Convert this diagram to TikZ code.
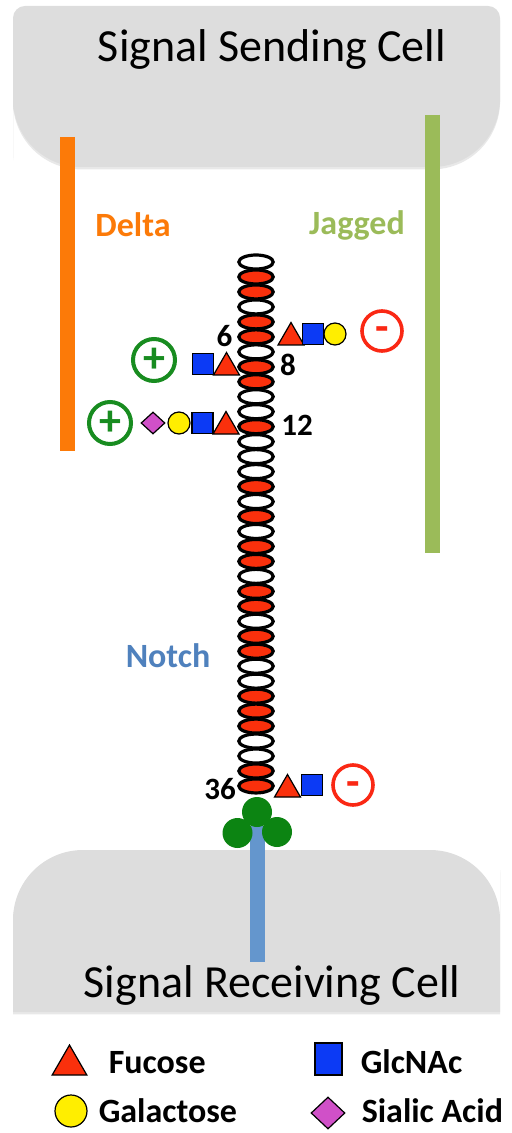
\documentclass[tikz,border=0pt]{standalone}
\usepackage{fontspec}
\setmainfont{Carlito}
\usetikzlibrary{shapes.geometric,shadows}

\definecolor{cellgray}{RGB}{221,221,221}
\definecolor{egfred}{RGB}{250,48,12}
\definecolor{fucred}{RGB}{250,48,12}
\definecolor{glcblue}{RGB}{12,58,245}
\definecolor{galyellow}{RGB}{255,238,0}
\definecolor{siamag}{RGB}{208,80,200}
\definecolor{deltaorange}{RGB}{252,122,8}
\definecolor{jaggedgreen}{RGB}{155,187,89}
\definecolor{notchblue}{RGB}{79,129,189}
\definecolor{stemblue}{RGB}{100,150,205}
\definecolor{knobgreen}{RGB}{12,132,18}
\definecolor{gaingreen}{RGB}{24,140,32}
\definecolor{lossred}{RGB}{250,40,20}

\tikzset{every picture/.style={line width=0.75pt}}
\tikzset{
    cell/.style={fill=cellgray, drop shadow={opacity=0.18, shadow xshift=0pt, shadow yshift=-1.2pt}},
    egf/.style={ellipse, draw=black, line width=1.6pt, fill=white, inner sep=0pt,
        minimum width=17.2pt, minimum height=7pt},
    sugar/.style={draw=black, line width=0.6pt, inner sep=0pt},
    fuc/.style={sugar, regular polygon, regular polygon sides=3, fill=fucred, minimum size=15pt},
    glc/.style={sugar, rectangle, fill=glcblue, minimum size=10.5pt},
    gal/.style={sugar, circle, fill=galyellow, minimum size=11pt},
    sia/.style={sugar, diamond, fill=siamag, minimum width=12pt, minimum height=11pt},
    knob/.style={circle, fill=knobgreen, inner sep=0pt, minimum size=15pt},
    gainsign/.style={circle, draw=gaingreen, text=gaingreen, line width=2pt, inner sep=0pt,
        minimum size=21pt, font=\bfseries\fontsize{22}{22}\selectfont},
    losssign/.style={circle, draw=lossred, text=lossred, line width=1.8pt, inner sep=0pt,
        minimum size=20pt, text height=11pt, text depth=0pt,
        font=\bfseries\fontsize{22}{22}\selectfont},
    site/.style={font=\bfseries\fontsize{15.5}{17}\selectfont},
    ligand/.style={font=\bfseries\fontsize{17}{19}\selectfont},
    title/.style={font=\fontsize{23}{27}\selectfont, anchor=base},
    key/.style={font=\bfseries\fontsize{17}{19}\selectfont, anchor=base west, inner sep=0pt},
}

\begin{document}
\begin{tikzpicture}[x=0.5pt, y=-0.5pt]
    \useasboundingbox (0,0) rectangle (511,1133);

    % the two cells
    \fill[cell] (13,90) [rounded corners=6pt] -- (13,6) -- (500,6) -- (500,90)
        [rounded corners=34pt] -- (500,167) -- (13,167) -- cycle;
    \fill[cell] (13,940) [rounded corners=35pt] -- (13,850) -- (500,850) -- (500,940)
        [sharp corners] -- (500,1012) -- (13,1012) -- cycle;
    \node[title] (send) at (272,62) {Signal Sending Cell};
    \node[title] (recv) at (272,997) {Signal Receiving Cell};

    % ligands
    \draw[line width=7.5pt, deltaorange] (67.5,137) -- (67.5,451);
    \draw[line width=7.5pt, jaggedgreen] (432.5,115) -- (432.5,553);
    \node[ligand, text=deltaorange] (delta) at (133,225) {Delta};
    \node[ligand, text=jaggedgreen] (jagged) at (357,225) {Jagged};
    \node[ligand, text=notchblue] (notch) at (168,656) {Notch};

    % stem and knobs
    \draw[line width=7.5pt, stemblue] (257.5,826) -- (257.5,962);
    \node[knob] (k1) at (257,812) {};
    \node[knob] (k2) at (237.5,833) {};
    \node[knob] (k3) at (277,832) {};

    % EGF repeats
    \foreach \c [count=\i] in {white,egfred,egfred,white,egfred,egfred,white,egfred,egfred,
            white,white,egfred,white,white,white,egfred,white,egfred,white,egfred,egfred,
            white,egfred,egfred,white,egfred,egfred,white,white,egfred,egfred,egfred,
            white,white,egfred,egfred}
        \node[egf, fill=\c] (e\i) at (256,{262+(\i-1)*14.97}) {};

    \node[site] (s6) at (224.5,336.5) {6};
    \node[site] (s8) at (288,365) {8};
    \node[site] (s12) at (297,425) {12};
    \node[site] (s36) at (220,789.5) {36};

    % glycans on 6
    \node[fuc] (f6) at (291,337.5) {};
    \node[glc] (n6) at (313,334) {};
    \node[gal] (a6) at (335,334) {};
    \node[losssign] (m6) at (382,331) {-};

    % glycans on 8
    \node[glc] (n8) at (203,364) {};
    \node[fuc] (f8) at (226.5,367.5) {};
    \node[gainsign] (p8) at (154,360) {+};

    % glycans on 12
    \node[sia] (s12a) at (153,423) {};
    \node[gal] (a12) at (179,423) {};
    \node[glc] (n12) at (202.5,423) {};
    \node[fuc] (f12) at (226,426.5) {};
    \node[gainsign] (p12) at (110,423) {+};

    % glycans on 36
    \node[fuc] (f36) at (287.5,789.5) {};
    \node[glc] (n36) at (312,785) {};
    \node[losssign] (m36) at (353,785) {-};

    % legend
    \node[fuc, minimum size=20pt] (kf) at (69.5,1065) {};
    \node[key] (kft) at (108,1073) {Fucose};
    \node[glc, minimum width=13.5pt, minimum height=16pt] (kn) at (328.5,1059) {};
    \node[key] (knt) at (360,1073) {GlcNAc};
    \node[gal, minimum size=16pt] (ka) at (71,1111) {};
    \node[key] (kat) at (98,1122) {Galactose};
    \node[sia, minimum width=17pt, minimum height=16pt] (ks) at (328,1113) {};
    \node[key] (kst) at (361,1122) {Sialic Acid};
\end{tikzpicture}
\end{document}
